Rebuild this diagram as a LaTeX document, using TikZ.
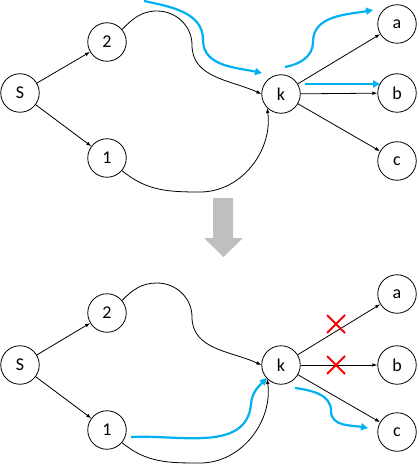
\documentclass[tikz,border=0pt]{standalone}
\usepackage{fontspec}
\setmainfont{Carlito}
\usetikzlibrary{arrows.meta}
\definecolor{cblue}{HTML}{00B0F0}
\definecolor{cgray}{HTML}{BFBFBF}
\begin{document}
\begin{tikzpicture}[x=1pt,y=-1pt,
  vert/.style={circle,draw=black,line width=0.8pt,minimum size=38.5pt,inner sep=0pt,font=\fontsize{18}{18}\selectfont},
  edge/.style={line width=0.8pt,-{Latex[length=5pt,width=3.6pt]}},
  hl/.style={cblue,line width=2.2pt,-{Triangle[length=7pt,width=7pt]}},
  cross/.style={red,line width=1.8pt}]
\useasboundingbox (0,0) rectangle (419,465);
% ---------- top graph ----------
\node[vert] (tS) at (20,93) {S};
\node[vert] (t2) at (107,42) {2};
\node[vert] (t1) at (107,158) {1};
\node[vert] (tk) at (281,94) {k};
\node[vert] (ta) at (397,24) {a};
\node[vert] (tb) at (397,93) {b};
\node[vert] (tc) at (397,161) {c};
\draw[edge] (tS) -- (t2);
\draw[edge] (tS) -- (t1);
\draw[edge] (tk) -- (ta);
\draw[edge] (tk) -- (tb);
\draw[edge] (tk) -- (tc);
\draw[edge] (t2.40) to[out=45,in=180] (157,11) to[out=0,in=90] (192,45) to[out=-90,in=155] (tk.west);
\draw[edge] (t1.-40) to[out=-40,in=180] (200,192) to[out=0,in=-82] (tk.225);
% blue highlights
\coordinate (tb1s) at (144,1);
\coordinate (tb1e) at (262,73);
\draw[hl] (tb1s) to[out=-12,in=90] (203,40) to[out=-90,in=168] (tb1e);
\coordinate (tb2s) at (285,67);
\coordinate (tb2e) at (373,10);
\draw[hl] (tb2s) to[out=10,in=-90] (313,42) to[out=90,in=190] (tb2e);
\coordinate (tb3s) at (305,84);
\coordinate (tb3e) at (380,84);
\draw[hl] (tb3s) -- (tb3e);
% ---------- gray arrow ----------
\fill[cgray] (213,198) -- (233,198) -- (233,238) -- (243,238) -- (223.5,257) -- (204,238) -- (213,238) -- cycle;
% ---------- bottom graph ----------
\node[vert] (bS) at (20,365) {S};
\node[vert] (b2) at (107,313) {2};
\node[vert] (b1) at (107,430) {1};
\node[vert] (bk) at (281,365) {k};
\node[vert] (ba) at (397,294) {a};
\node[vert] (bb) at (397,365) {b};
\node[vert] (bc) at (397,432) {c};
\draw[edge] (bS) -- (b2);
\draw[edge] (bS) -- (b1);
\draw[edge] (bk) -- (ba);
\draw[edge] (bk) -- (bb);
\draw[edge] (bk) -- (bc);
\draw[edge] (b2.40) to[out=45,in=180] (157,283) to[out=0,in=90] (192,317) to[out=-90,in=155] (bk.west);
\draw[edge] (b1.-40) to[out=-40,in=180] (200,463) to[out=0,in=-82] (bk.225);
% red crosses
\coordinate (x1) at (336,324);
\coordinate (x2) at (336,365);
\draw[cross] ([shift={(-9,-9)}]x1) -- ([shift={(9,9)}]x1);
\draw[cross] ([shift={(-9,9)}]x1) -- ([shift={(9,-9)}]x1);
\draw[cross] ([shift={(-9,-9)}]x2) -- ([shift={(9,9)}]x2);
\draw[cross] ([shift={(-9,9)}]x2) -- ([shift={(9,-9)}]x2);
% blue highlights
\coordinate (bb1s) at (131,437);
\coordinate (bb1e) at (267,378);
\draw[hl] (bb1s) to[out=3,in=-95] (251,404) to[out=85,in=-135] (bb1e);
\coordinate (bb2s) at (295,388);
\coordinate (bb2e) at (368,428);
\draw[hl] (bb2s) to[out=-8,in=90] (331,411) to[out=-90,in=170] (bb2e);
\end{tikzpicture}
\end{document}
